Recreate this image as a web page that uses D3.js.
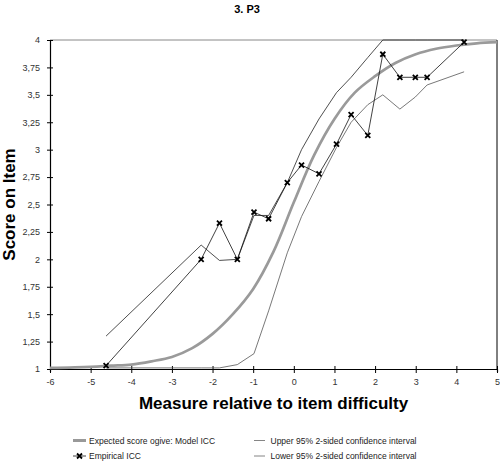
<!DOCTYPE html>
<html>
<head>
<meta charset="utf-8">
<script src="https://d3js.org/d3.v7.min.js"></script>
<style>
  body { margin: 0; background: #fff; }
  svg { display: block; font-family: "Liberation Sans", Arial, sans-serif; }
</style>
</head>
<body>
<div id="chart"></div>
<script>
// Empirical ICC points (measure relative to item difficulty)
const measure   = [-4.62, -2.28, -1.83, -1.39, -0.98, -0.62, -0.16, 0.19, 0.62, 1.05, 1.41, 1.82, 2.19, 2.61, 2.99, 3.28, 4.19];
const empirical = [1.03, 2.0, 2.33, 2.0, 2.43, 2.37, 2.70, 2.86, 2.78, 3.05, 3.32, 3.13, 3.87, 3.66, 3.66, 3.66, 3.98];
const upperCI   = [1.30, 2.13, 1.99, 2.0, 2.40, 2.40, 2.70, 3.00, 3.28, 3.52, 3.66, 3.84, 4.0, 4.0, 4.0, 4.0, 4.0];
const lowerCI   = [1.01, 1.01, 1.01, 1.04, 1.14, 1.53, 2.06, 2.39, 2.71, 3.02, 3.25, 3.41, 3.50, 3.37, 3.48, 3.59, 3.71];

// Model ICC (expected score ogive)
const modelX = [-6, -5, -4.5, -4, -3.5, -3, -2.5, -2, -1.5, -1, -0.5, 0, 0.5, 1, 1.5, 2, 2.5, 3, 3.5, 4, 4.5, 5];
const modelY = [1.01, 1.02, 1.03, 1.04, 1.07, 1.11, 1.19, 1.32, 1.5, 1.73, 2.07, 2.52, 2.95, 3.28, 3.52, 3.67, 3.79, 3.87, 3.92, 3.95, 3.97, 3.98];

// Tick labels
const xTicks = [-6, -5, -4, -3, -2, -1, 0, 1, 2, 3, 4, 5];
const yTicks = [1, 1.25, 1.5, 1.75, 2, 2.25, 2.5, 2.75, 3, 3.25, 3.5, 3.75, 4];

const legendItems = [
    { label: 'Expected score ogive: Model ICC', kind: 'model' },
    { label: 'Empirical ICC', kind: 'empirical' },
    { label: 'Upper 95% 2-sided confidence interval', kind: 'upper' },
    { label: 'Lower 95% 2-sided confidence interval', kind: 'lower' }
];

const width = 500, height = 465;
const plot = { left: 50, right: 497, top: 40, bottom: 369 };

const svg = d3.select('#chart')
    .append('svg')
    .attr('width', width)
    .attr('height', height);

svg.append('rect')
    .attr('width', width)
    .attr('height', height)
    .attr('fill', '#fff');

const x = d3.scaleLinear().domain([-6, 5]).range([plot.left, plot.right]);
const y = d3.scaleLinear().domain([1, 4]).range([plot.bottom, plot.top]);

const comma = d => String(d).replace('.', ',');

// Plot frame: top and right edges
svg.append('line')
    .attr('x1', plot.left).attr('x2', plot.right)
    .attr('y1', plot.top).attr('y2', plot.top)
    .attr('stroke', '#888').attr('stroke-width', 1);
svg.append('line')
    .attr('x1', plot.right).attr('x2', plot.right)
    .attr('y1', plot.top).attr('y2', plot.bottom)
    .attr('stroke', '#000').attr('stroke-width', 1);

// Axes
const xAxis = svg.append('g')
    .attr('transform', `translate(0,${plot.bottom})`)
    .call(d3.axisBottom(x).tickValues(xTicks).tickFormat(comma).tickSizeOuter(0).tickSize(3).tickPadding(7));

const yAxis = svg.append('g')
    .attr('transform', `translate(${plot.left},0)`)
    .call(d3.axisLeft(y).tickValues(yTicks).tickFormat(comma).tickSizeOuter(0).tickSize(3).tickPadding(7));

// crossing tick marks
xAxis.selectAll('.tick line').attr('y1', -3).attr('y2', 4);
yAxis.selectAll('.tick line').attr('x1', 3).attr('x2', -3);

[xAxis, yAxis].forEach(a => {
    a.select('.domain').attr('stroke', '#000').attr('stroke-width', 1.2);
    a.selectAll('.tick line').attr('stroke', '#000');
    a.selectAll('.tick text')
        .attr('fill', '#333')
        .style('font-size', '9px')
        .style('font-family', '"Liberation Sans", Arial, sans-serif');
});

// Lines
const modelPts = modelX.map((d, i) => [d, modelY[i]]);
const smooth = d3.line()
    .x(d => x(d[0]))
    .y(d => y(d[1]))
    .curve(d3.curveCatmullRom.alpha(0.5));

svg.append('path')
    .datum(modelPts)
    .attr('fill', 'none')
    .attr('stroke', '#9a9a9a')
    .attr('stroke-width', 2.7)
    .attr('d', smooth);

const straight = d3.line().x(d => x(d[0])).y(d => y(d[1]));

svg.append('path')
    .datum(measure.map((d, i) => [d, upperCI[i]]))
    .attr('fill', 'none')
    .attr('stroke', '#222')
    .attr('stroke-width', 0.8)
    .attr('d', straight);

svg.append('path')
    .datum(measure.map((d, i) => [d, lowerCI[i]]))
    .attr('fill', 'none')
    .attr('stroke', '#555')
    .attr('stroke-width', 0.8)
    .attr('d', straight);

svg.append('path')
    .datum(measure.map((d, i) => [d, empirical[i]]))
    .attr('fill', 'none')
    .attr('stroke', '#111')
    .attr('stroke-width', 0.8)
    .attr('d', straight);

// X markers for empirical points
const cross = s => `M${-s},${-s}L${s},${s}M${-s},${s}L${s},${-s}`;
svg.append('g')
    .selectAll('path')
    .data(measure)
    .join('path')
    .attr('transform', (d, i) => `translate(${x(d)},${y(empirical[i])})`)
    .attr('d', cross(2.5))
    .attr('stroke', '#000')
    .attr('stroke-width', 1.8)
    .attr('fill', 'none');

// Titles
svg.append('text')
    .attr('x', 247).attr('y', 13)
    .attr('text-anchor', 'middle')
    .style('font-size', '11px')
    .style('font-weight', 'bold')
    .text('3. P3');

svg.append('text')
    .attr('transform', `translate(15,${(plot.top + plot.bottom) / 2}) rotate(-90)`)
    .attr('text-anchor', 'middle')
    .style('font-size', '17px')
    .style('font-weight', 'bold')
    .text('Score on Item');

svg.append('text')
    .attr('x', (plot.left + plot.right) / 2).attr('y', 409)
    .attr('text-anchor', 'middle')
    .style('font-size', '17px')
    .style('font-weight', 'bold')
    .text('Measure relative to item difficulty');

// Legend
const legendPos = [
    { x: 73, y: 440.5 },
    { x: 73, y: 456 },
    { x: 254, y: 440.5 },
    { x: 254, y: 456 }
];

const legend = svg.append('g');
legendItems.forEach((item, i) => {
    const p = legendPos[i];
    const g = legend.append('g').attr('transform', `translate(${p.x},${p.y})`);
    if (item.kind === 'model') {
        g.append('line').attr('x1', 0).attr('x2', 13).attr('stroke', '#999').attr('stroke-width', 3);
    } else if (item.kind === 'empirical') {
        g.append('line').attr('x1', 0).attr('x2', 13).attr('stroke', '#111').attr('stroke-width', 0.8);
        g.append('path').attr('transform', 'translate(6.5,0)').attr('d', cross(2.5))
            .attr('stroke', '#000').attr('stroke-width', 1.8);
    } else {
        g.append('line').attr('x1', 0).attr('x2', 11).attr('stroke', '#777').attr('stroke-width', 0.9);
    }
    g.append('text')
        .attr('x', item.kind === 'upper' || item.kind === 'lower' ? 16.5 : 16)
        .attr('y', 3)
        .style('font-size', '8.5px')
        .attr('fill', '#222')
        .text(item.label);
});
</script>
</body>
</html>
